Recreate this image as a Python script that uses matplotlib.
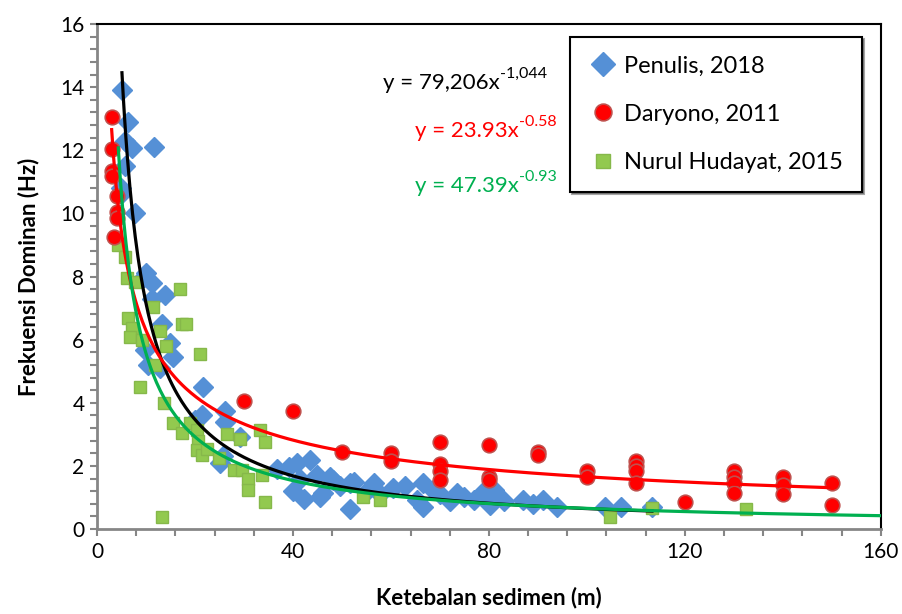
import matplotlib
matplotlib.use("Agg")
import matplotlib.pyplot as plt
import numpy as np

plt.rcParams['font.family'] = ['Lato', 'DejaVu Sans']

# Penulis, 2018 (blue diamonds)
pen_x = [5.2, 6.4, 5.7, 7.1, 11.7, 5.7, 5.0, 5.0, 7.8, 10.0, 11.2, 9.5, 13.9, 11.2, 13.2,
         14.9, 9.8, 15.6, 10.5, 12.9, 21.7, 21.4, 20.0, 26.2, 26.2, 29.2, 25.8, 25.1, 36.7,
         40.8, 39.1, 40.1, 42.2, 43.5, 44.9, 46.2, 47.6, 48.2, 49.7, 51.7, 51.7, 52.4, 55.4,
         56.5, 57.8, 60.5, 62.9, 65.4, 66.6, 66.6, 68.5, 70.0, 72.0, 73.5, 75.0, 76.9, 78.5,
         80.3, 81.0, 83.0, 87.0, 89.0, 91.0, 94.0, 103.8, 106.9, 113.3, 41.5, 45.5]
pen_y = [13.9, 12.9, 12.3, 12.06, 12.1, 11.5, 10.8, 10.6, 10.0, 8.1, 7.8, 8.0, 7.4, 7.3, 6.5,
         5.9, 5.67, 5.46, 5.2, 5.1, 4.5, 3.6, 3.45, 3.75, 3.4, 2.9, 2.3, 2.1, 1.9,
         2.1, 1.95, 1.2, 0.95, 2.2, 1.7, 1.15, 1.65, 1.55, 1.35, 0.65, 1.45, 1.5, 1.25,
         1.45, 1.1, 1.3, 1.35, 0.92, 1.45, 0.7, 1.25, 1.1, 0.9, 1.13, 1.0, 0.92, 1.15,
         0.75, 1.24, 0.9, 0.92, 0.8, 0.92, 0.7, 0.7, 0.7, 0.7, 1.6, 1.0]

# Daryono, 2011 (red circles)
dar_x = [3, 3, 3, 3, 4, 4, 4, 3.5, 30, 40, 50, 60, 60, 70, 70, 70, 70, 80, 80, 80, 90, 90,
         100, 100, 110, 110, 110, 110, 120, 130, 130, 130, 130, 140, 140, 140, 150, 150]
dar_y = [13.05, 12.05, 11.35, 11.2, 10.55, 10.05, 9.85, 9.25, 4.05, 3.75, 2.45, 2.4, 2.15,
         2.75, 2.05, 1.85, 1.55, 2.65, 1.65, 1.55, 2.45, 2.35, 1.85, 1.65, 2.15, 2.0, 1.85,
         1.45, 0.85, 1.85, 1.65, 1.45, 1.15, 1.65, 1.4, 1.1, 1.45, 0.75]

# Nurul Hudayat, 2015 (green squares)
nur_x = [4.35, 5.8, 6.2, 7.8, 17.0, 6.4, 7.1, 6.7, 9.1, 11.5, 12.9, 17.4, 18.2, 14.0, 21.0,
         11.9, 8.8, 13.6, 15.6, 17.3, 19.0, 20.5, 20.7, 20.4, 21.4, 22.4, 25.0, 26.5, 29.2,
         27.9, 29.6, 30.9, 30.9, 33.3, 34.2, 33.7, 34.3, 13.2, 54.4, 57.8, 104.8, 113.3, 132.4]
nur_y = [9.0, 8.63, 7.94, 7.84, 7.6, 6.67, 6.36, 6.07, 5.99, 7.05, 6.28, 6.5, 6.5, 5.8, 5.55,
         5.2, 4.5, 4.0, 3.35, 3.05, 3.35, 3.15, 2.8, 2.5, 2.35, 2.55, 2.25, 3.0, 2.85,
         1.87, 1.87, 1.6, 1.24, 3.15, 2.75, 1.7, 0.85, 0.39, 1.02, 0.92, 0.39, 0.67, 0.62]

# power trendlines y = a * x^b, with the labels as printed on the chart
fit_pen = (79.206, -1.044)
fit_dar = (23.93, -0.58)
fit_nur = (47.39, -0.93)
eq_pen = ('y = 79,206x', '-1,044')
eq_dar = ('y = 23.93x', '-0.58')
eq_nur = ('y = 47.39x', '-0.93')

fig = plt.figure(figsize=(9.02, 6.14), dpi=100)
ax = fig.add_axes([0.1075, 0.1384, 0.869, 0.8225])

blue = '#5590D6'
ax.plot(pen_x, pen_y, 'D', ms=10.5, color=blue, mec=blue, label='Penulis, 2018', zorder=3)
ax.plot(dar_x, dar_y, 'o', ms=10.5, color='#FF0000', mec='#C0504D', mew=1.2,
        label='Daryono, 2011', zorder=4)
ax.plot(nur_x, nur_y, 's', ms=8.5, color='#92C94F', mec='#86B84A', mew=1,
        label='Nurul Hudayat, 2015', zorder=3)

xs = np.linspace(5.1, max(pen_x), 400)
ax.plot(xs, fit_pen[0] * xs ** fit_pen[1], color='black', lw=2.3, zorder=5)
xs = np.linspace(min(dar_x), max(dar_x), 400)
ax.plot(xs, fit_dar[0] * xs ** fit_dar[1], color='#FF0000', lw=2.3, zorder=5)
xs = np.linspace(min(nur_x), 160, 400)
ax.plot(xs, fit_nur[0] * xs ** fit_nur[1], color='#00B050', lw=2.3, zorder=5)


def equation(x, y, parts, color):
    base = ax.text(x, y, parts[0], color=color, fontsize=16, va='center')
    ax.annotate(parts[1], xy=(1.0, 0.62), xycoords=base, color=color, fontsize=11.5,
                va='bottom', ha='left')


equation(58.4, 14.13, eq_pen, 'black')
equation(65.0, 12.6, eq_dar, '#FF0000')
equation(65.0, 10.87, eq_nur, '#00B050')

ax.set_xlim(0, 160)
ax.set_ylim(0, 16)
ax.set_xticks(np.arange(0, 161, 40))
ax.set_xticks(np.arange(0, 161, 8), minor=True)
ax.set_yticks(np.arange(0, 17, 2))
ax.set_yticks(np.arange(0, 16.1, 0.4), minor=True)
ax.tick_params(which='both', direction='out', color='#868686', width=1.5, length=5,
               labelsize=15)
ax.tick_params(which='major', pad=4)

for s in ['left', 'bottom']:
    ax.spines[s].set_color('#868686')
    ax.spines[s].set_linewidth(2)
for s in ['top', 'right']:
    ax.spines[s].set_color('black')
    ax.spines[s].set_linewidth(1.5)

ax.set_xlabel('Ketebalan sedimen (m)', fontsize=16, fontweight='bold', labelpad=18)
ax.set_ylabel('Frekuensi Dominan (Hz)', fontsize=16, fontweight='bold', labelpad=15)

leg = ax.legend(loc='upper left', bbox_to_anchor=(0.603, 0.975), borderaxespad=0,
                fontsize=17, frameon=True, fancybox=False, shadow=True,
                edgecolor='black', labelspacing=1.15, handletextpad=0.3,
                handlelength=1.2, borderpad=0.8, markerscale=1.15)
leg.get_frame().set_linewidth(1.5)

fig.savefig('out.png', dpi=100)
